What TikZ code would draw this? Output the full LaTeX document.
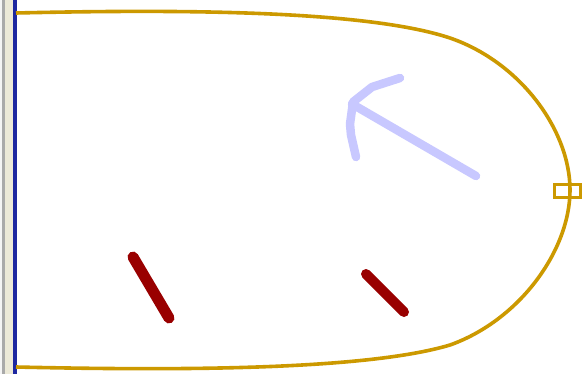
\documentclass[tikz,border=0pt]{standalone}
\definecolor{goldc}{RGB}{204,153,0}
\definecolor{redc}{RGB}{153,0,0}
\definecolor{bluec}{RGB}{200,200,255}
\definecolor{beigec}{RGB}{236,233,216}
\definecolor{lgrayc}{RGB}{245,245,245}
\definecolor{grayc}{RGB}{170,170,170}
\definecolor{navyc}{RGB}{30,40,160}
\begin{document}
\begin{tikzpicture}[x=1pt,y=-1pt,
  goldline/.style={draw=goldc,line width=3.6pt},
  redstroke/.style={draw=redc,line cap=round,line join=round},
  bluestroke/.style={draw=bluec,line width=8.5pt,line cap=round,line join=round}]
\useasboundingbox (0,0) rectangle (585,374);
\fill[white] (0,0) rectangle (585,374);
% left strip
\fill[beigec] (0,0) rectangle (13,374);
\fill[lgrayc] (0,0) rectangle (2,374);
\fill[grayc] (2,0) rectangle (5,374);
\fill[navyc] (13,0) rectangle (16.5,374);
% gold outline
\draw[goldline] (16,13) .. controls (150,10) and (360,8) .. (450,38)
  .. controls (520,62) and (570,130) .. (570,190)
  .. controls (570,250) and (520,320) .. (450,345)
  .. controls (360,372) and (150,370) .. (16,367);
% small rectangle
\node[draw=goldc,line width=3pt,minimum width=26pt,minimum height=13pt,inner sep=0pt] (port) at (567.5,191) {};
% blue arrow
\coordinate (a1) at (476,176);
\coordinate (a2) at (352,104);
\draw[bluestroke] (a1) -- (a2);
\draw[bluestroke] (356,157) -- (351,135) -- (350,124) -- (353,102) -- (372,87) -- (400,78);
% red strokes
\draw[redstroke,line width=11pt] (133,257) -- (169,318);
\draw[redstroke,line width=10pt] (366,274) -- (404,312);
\end{tikzpicture}
\end{document}
